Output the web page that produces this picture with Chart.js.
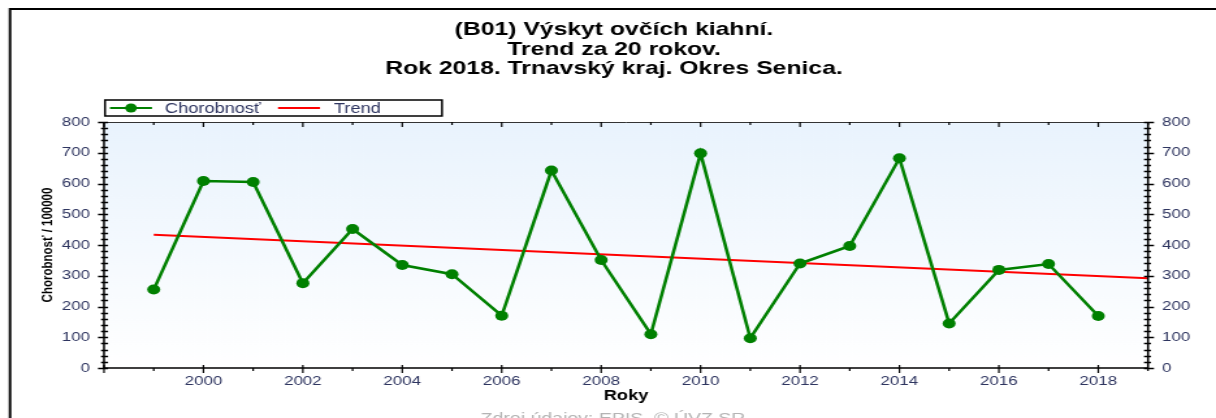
<!DOCTYPE html>
<html>
<head>
<meta charset="utf-8">
<script src="https://cdn.jsdelivr.net/npm/chart.js@4/dist/chart.umd.min.js"></script>
<style>
    body { margin: 0; background: #fff; }
    #wrap { width: 1216px; height: 418px; overflow: hidden; }
    /* the reference is stretched sideways, so the canvas is drawn narrower and widened here */
    #chart { display: block; transform: scaleX(1.30053); transform-origin: 0 0; }
</style>
</head>
<body>
<div id="wrap"><canvas id="chart" width="935" height="418"></canvas></div>
<script>
const years = [1999, 2000, 2001, 2002, 2003, 2004, 2005, 2006, 2007, 2008,
               2009, 2010, 2011, 2012, 2013, 2014, 2015, 2016, 2017, 2018];
const chorobnost = [255, 608, 605, 276, 452, 335, 305, 170, 642, 351,
                    110, 698, 97, 340, 397, 682, 145, 319, 338, 169];
const trendYears = [1999, 2019];
const trendValues = [433, 292];
const titleLines = ["(B01) Výskyt ovčích kiahní.", "Trend za 20 rokov.", "Rok 2018. Trnavský kraj. Okres Senica."];
const yTitle = "Chorobnosť / 100000";
const xTitle = "Roky";
const source = "Zdroj údajov: EPIS, © ÚVZ SR";

const S = 1216 / 935;          // horizontal stretch
const sx = v => v / S;         // page x -> canvas x
const labelColor = "#2e3560";
const font = "'Liberation Sans', Arial, sans-serif";

// frame, title, legend, gradient and the axis tick marks
const decor = {
    id: "decor",
    beforeDraw(chart) {
        const ctx = chart.ctx;
        const a = chart.chartArea;
        ctx.save();
        ctx.fillStyle = "#fff";
        ctx.fillRect(0, 0, chart.width, chart.height);

        ctx.strokeStyle = "#000";
        ctx.lineWidth = 2;
        ctx.beginPath();
        ctx.moveTo(sx(10), 418); ctx.lineTo(sx(10), 9); ctx.lineTo(chart.width, 9);
        ctx.stroke();

        const g = ctx.createLinearGradient(0, a.top, 0, a.bottom);
        g.addColorStop(0, "#e9f3fd");
        g.addColorStop(1, "#ffffff");
        ctx.fillStyle = g;
        ctx.fillRect(a.left, a.top, a.right - a.left, a.bottom - a.top);

        ctx.fillStyle = "#000";
        ctx.font = "bold 19px " + font;
        ctx.textAlign = "center";
        ctx.textBaseline = "alphabetic";
        titleLines.forEach((t, i) => ctx.fillText(t, sx(614), 35 + i * 19.5));

        ctx.fillStyle = "#b4b4b4";
        ctx.font = "15px " + font;
        ctx.textBaseline = "middle";
        ctx.fillText(source, sx(613), 419);

        // legend box
        ctx.fillStyle = "#fff";
        ctx.fillRect(sx(105), 100, sx(442) - sx(105), 16);
        ctx.strokeStyle = "#000";
        ctx.lineWidth = 1.5;
        ctx.strokeRect(sx(105), 100, sx(442) - sx(105), 16);
        const ds = chart.data.datasets;
        ctx.lineWidth = 2;
        ctx.strokeStyle = ds[0].borderColor;
        ctx.beginPath(); ctx.moveTo(sx(110), 108); ctx.lineTo(sx(152), 108); ctx.stroke();
        ctx.fillStyle = ds[0].borderColor;
        ctx.beginPath(); ctx.arc(sx(131), 108, 4.5, 0, Math.PI * 2); ctx.fill();
        ctx.strokeStyle = ds[1].borderColor;
        ctx.beginPath(); ctx.moveTo(sx(278), 108); ctx.lineTo(sx(320), 108); ctx.stroke();
        ctx.fillStyle = labelColor;
        ctx.font = "14px " + font;
        ctx.textAlign = "left";
        ctx.textBaseline = "alphabetic";
        ctx.fillText(ds[0].label, sx(165), 113);
        ctx.fillText(ds[1].label, sx(334), 113);
        ctx.restore();
    },
    afterDraw(chart) {
        const ctx = chart.ctx;
        const a = chart.chartArea;
        const x = chart.scales.x, y = chart.scales.y;
        ctx.save();
        ctx.strokeStyle = "#333";
        ctx.lineWidth = 1;
        ctx.beginPath(); ctx.moveTo(a.left, a.top + 0.5); ctx.lineTo(a.right, a.top + 0.5); ctx.stroke();
        ctx.strokeStyle = "#000";
        ctx.lineWidth = 1.5;
        ctx.beginPath();
        ctx.moveTo(a.left, a.top); ctx.lineTo(a.left, a.bottom);
        ctx.lineTo(a.right, a.bottom); ctx.lineTo(a.right, a.top);
        ctx.stroke();

        ctx.lineWidth = 1.2;
        ctx.beginPath();
        for (let yr = x.min; yr <= x.max; yr++) {
            const px = x.getPixelForValue(yr);
            const major = yr % 2 === 0;
            ctx.moveTo(px, a.bottom - (major ? 3 : 0)); ctx.lineTo(px, a.bottom + (major ? 5 : 3));
            ctx.moveTo(px, a.top); ctx.lineTo(px, a.top + (major ? 5 : 3));
        }
        ctx.stroke();
        ctx.lineWidth = 1.5;
        ctx.beginPath();
        for (let v = y.min; v <= y.max; v += 20) {
            const py = Math.round(y.getPixelForValue(v)) + 0.5;
            const major = v % 100 === 0;
            ctx.moveTo(a.left - sx(major ? 6 : 3), py); ctx.lineTo(a.left + sx(4), py);
            ctx.moveTo(a.right - sx(4), py); ctx.lineTo(a.right + sx(major ? 6 : 3), py);
        }
        ctx.stroke();
        ctx.restore();
    }
};

new Chart(document.getElementById("chart").getContext("2d"), {
    type: "line",
    data: {
        datasets: [{
            label: "Chorobnosť",
            data: years.map((yr, i) => ({ x: yr, y: chorobnost[i] })),
            borderColor: "#008000",
            backgroundColor: "#008000",
            borderWidth: 2.6,
            pointRadius: 5,
            pointBorderWidth: 0,
            pointHoverRadius: 5
        }, {
            label: "Trend",
            data: trendYears.map((yr, i) => ({ x: yr, y: trendValues[i] })),
            borderColor: "#ff0000",
            borderWidth: 2,
            pointRadius: 0
        }]
    },
    options: {
        responsive: false,
        animation: false,
        events: [],
        layout: { padding: { left: 0, right: 0, top: 122, bottom: 0 } },
        plugins: { legend: { display: false }, title: { display: false }, tooltip: { enabled: false } },
        scales: {
            x: {
                type: "linear",
                min: 1998,
                max: 2019,
                grid: { display: false, drawTicks: false },
                border: { display: false },
                ticks: {
                    stepSize: 1,
                    autoSkip: false,
                    maxRotation: 0,
                    padding: 6,
                    color: labelColor,
                    font: { family: font, size: 13 },
                    callback: v => (v % 2 === 0 && v > 1998 ? String(v) : "")
                },
                title: {
                    display: true,
                    text: xTitle,
                    color: "#000",
                    font: { family: font, size: 14, weight: "bold" },
                    padding: { top: 0, bottom: 13 }
                },
                afterFit: s => { s.height = 50; }
            },
            y: {
                min: 0,
                max: 800,
                grid: { display: false, drawTicks: false },
                border: { display: false },
                ticks: { stepSize: 100, padding: sx(14), color: labelColor, font: { family: font, size: 13 } },
                title: {
                    display: true,
                    text: yTitle,
                    color: "#000",
                    font: { family: font, size: 11.5, weight: "bold" },
                    padding: { top: 29.6, bottom: 0 }
                },
                afterFit: s => { s.width = sx(104); }
            },
            y2: {
                position: "right",
                min: 0,
                max: 800,
                grid: { display: false, drawTicks: false },
                border: { display: false },
                ticks: { stepSize: 100, padding: sx(14), color: labelColor, font: { family: font, size: 13 } },
                afterFit: s => { s.width = 935 - sx(1148); }
            }
        }
    },
    plugins: [decor]
});
</script>
</body>
</html>
